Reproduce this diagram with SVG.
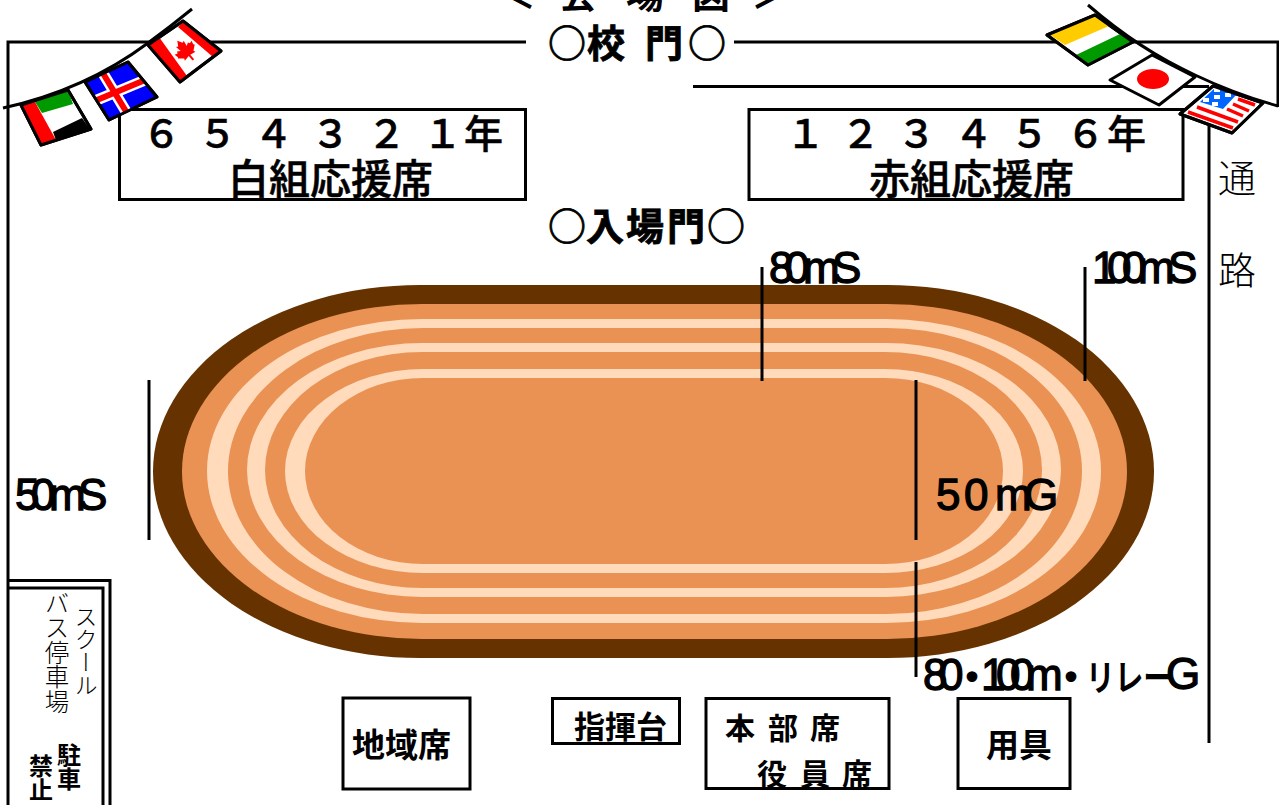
<svg xmlns="http://www.w3.org/2000/svg" width="1279" height="805" viewBox="0 0 1279 805">
<style>
text{font-family:"Noto Sans CJK JP","Noto Sans",sans-serif;fill:#000}
.b{font-weight:700}
.m{font-weight:500;stroke:#000;stroke-width:.5}
.lat{font-family:"Liberation Sans",sans-serif;font-weight:400;font-size:44px;stroke:#000;stroke-width:1.3}
.thin{font-weight:300}
.v{writing-mode:vertical-rl}
.ln{fill:none;stroke:#000;stroke-width:3}
.box{fill:#fff;stroke:#000;stroke-width:3}
.fl{stroke:#000;stroke-width:3;stroke-linejoin:round}
.nf{stroke:none}
.st{fill:none;stroke:#f00;stroke-width:3.500}
</style>
<defs>
<clipPath id="ic"><polygon points="85,82 128,62 157,97 109,120"/></clipPath>
<clipPath id="us"><polygon points="1180,114 1213,86 1263,103 1232,133"/></clipPath>
</defs>
<rect width="1279" height="805" fill="#fff"/>
<g id="title"><text class="b" font-size="38" y="8" x="498 559 626 692 751">＜会場図＞</text></g>
<g id="frame">
<path class="ln" d="M526 42H8V805M734 42H1278V107M693 86.500H1209M1209 118V743"/>
</g>
<g id="track">
<rect x="153" y="285" width="1001" height="373" rx="267" ry="186.500" fill="#663300"/>
<rect x="182" y="304" width="945" height="335" rx="240" ry="167.500" fill="#e99254"/>
<rect x="207" y="319" width="894" height="304" rx="215" ry="152" fill="#ffdabb"/>
<rect x="228" y="328" width="854" height="286" rx="195" ry="143" fill="#e99254"/>
<rect x="247" y="343" width="814" height="254" rx="175" ry="127" fill="#ffdabb"/>
<rect x="265" y="352" width="777" height="236" rx="157" ry="118" fill="#e99254"/>
<rect x="285" y="369" width="738" height="204" rx="138" ry="102" fill="#ffdabb"/>
<rect x="305" y="378" width="698" height="186" rx="118" ry="93" fill="#e99254"/>
</g>
<g id="connectors">
<path class="ln" d="M149 380V540M762 267V381M1085 267V381M916 380V540M916 562V677"/>
</g>
<g id="gate"><text class="b" font-size="38" y="57" x="548 587 645 688" stroke="#000" stroke-width=".8">○校門○</text></g>
<g id="entrance"><text class="b" font-size="38" y="240" x="548 586 626 667 707" stroke="#000" stroke-width=".8">○入場門○</text></g>
<g id="white-seats">
<rect class="box" x="119.500" y="109.500" width="406" height="90"/>
<text class="m" font-size="39" y="148" x="142 198 254 311 367 423 464">６５４３２１年</text>
<text class="m" font-size="41" y="194" x="228">白組応援席</text>
</g>
<g id="red-seats">
<rect class="box" x="749" y="109.500" width="434" height="90"/>
<text class="m" font-size="39" y="148" x="786 841 897 954 1010 1066 1107">１２３４５６年</text>
<text class="m" font-size="41" y="194" x="869">赤組応援席</text>
</g>
<g id="passage">
<text class="thin" font-size="38" x="1218" y="192">通</text>
<text class="thin" font-size="38" x="1218" y="284">路</text>
</g>
<g id="labels">
<text class="lat" y="283" x="769 785 803 832">80mS</text>
<text class="lat" y="283" x="1092 1107 1122 1138 1168">100mS</text>
<text class="lat" y="510" x="15 31 49 78">50mS</text>
<text class="lat" y="510" x="936 964 995 1024">50mG</text>
<text class="lat" y="690" x="923 939">80</text>
<text class="b" font-size="36" x="954" y="691" stroke="#000" stroke-width="1.500">・</text>
<text class="lat" y="690" x="981 996 1010 1026">100m</text>
<text class="b" font-size="36" x="1053" y="691" stroke="#000" stroke-width="1.500">・</text>
<text class="b" font-size="36" x="1086" y="691" textLength="86" lengthAdjust="spacingAndGlyphs">リレー</text>
<text class="lat" x="1166" y="689">G</text>
</g>
<g id="parking">
<path class="ln" d="M8 580.500H110V805M8 588H103V805"/>
<text class="v thin" font-size="23" x="86" y="605">スクール</text>
<text class="v thin" font-size="24.500" x="57" y="591">バス停車場</text>
<text class="v b" font-size="24" x="69" y="743">駐車</text>
<text class="v b" font-size="24" x="41" y="754">禁止</text>
</g>
<g id="local-seat">
<rect class="box" x="343" y="698" width="127" height="91"/>
<text class="b" font-size="33" x="352" y="757">地域席</text>
</g>
<g id="podium">
<rect class="box" x="552.500" y="698.500" width="127" height="45"/>
<text class="b" font-size="31" x="574" y="738">指揮台</text>
</g>
<g id="hq-seat">
<rect class="box" x="706" y="698.500" width="183" height="90"/>
<text class="b" font-size="30" y="739" x="725 768 810">本部席</text>
<text class="b" font-size="30" y="785" x="757 800 842">役員席</text>
</g>
<g id="equipment">
<rect class="box" x="958" y="698.500" width="112" height="90"/>
<text class="b" font-size="33" x="986" y="757">用具</text>
</g>
<g id="bunting-left">
<path class="ln" d="M3 108Q85 90 148 43Q170 27 192 9"/>
<polygon class="fl" points="21,105 68,90 91,129 41,145" fill="#fff"/>
<polygon class="nf" points="21,105 35,102 56,140 41,145" fill="#f00"/>
<polygon class="nf" points="35,102 68,90 73,104 42,113" fill="#090"/>
<polygon class="nf" points="53,132 82,118 90,129 56,140" fill="#000"/>
<polygon class="fl" points="21,105 68,90 91,129 41,145" fill="none"/>
<polygon class="fl" points="85,82 128,62 157,97 109,120" fill="#00f"/>
<g clip-path="url(#ic)">
<path fill="none" stroke="#fff" stroke-width="11" d="M85 105L150 78M101 70L130 118"/>
<path fill="none" stroke="#f00" stroke-width="6" d="M85 105L150 78M101 70L130 118"/>
</g>
<polygon class="fl" points="85,82 128,62 157,97 109,120" fill="none"/>
<polygon class="fl" points="148,45 183,21 221,51 180,82" fill="#fff"/>
<polygon class="nf" points="148,45 159,37 187,76 180,82" fill="#f00"/>
<polygon class="nf" points="178,27 184,21 221,51 213,57" fill="#f00"/>
<polygon class="nf" fill="#f00" transform="translate(185 50) rotate(-40)" points="0,-12 3,-7 5,-8 4,-2 7,-4 8,-2 11,-3 10,1 11,2 6,6 7,8 1,7 1,13 -1,13 -1,7 -7,8 -6,6 -11,2 -10,1 -11,-3 -8,-2 -7,-4 -4,-2 -5,-8 -3,-7"/>
<polygon class="fl" points="148,45 183,21 221,51 180,82" fill="none"/>
</g>
<g id="bunting-right">
<path class="ln" d="M1088 5Q1140 50 1195 75Q1235 94 1278 106"/>
<polygon class="fl" points="1047,35 1095,15 1133,42 1088,65" fill="#fff"/>
<polygon class="nf" points="1050,35 1095,16 1109,26 1065,45" fill="#fc0"/>
<polygon class="nf" points="1076,55 1120,34 1132,42 1088,64" fill="#090"/>
<polygon class="fl" points="1047,35 1095,15 1133,42 1088,65" fill="none"/>
<polygon class="fl" points="1110,80 1152,55 1195,77 1159,105" fill="#fff"/>
<ellipse cx="1153" cy="79" rx="16" ry="10" fill="#f00"/>
<polygon class="fl" points="1180,114 1213,86 1263,103 1232,133" fill="#fff"/>
<g clip-path="url(#us)">
<path class="st" d="M1188 112L1233 128M1197 107L1238 122M1227 109L1243 116M1233 104L1249 111M1238 99L1255 105"/>
<polygon class="nf" points="1200,102 1217,86 1238,93 1223,109" fill="#06f"/>
</g>
<path fill="#fff" d="M1214 88h6v4h-6zM1225 93h6v4h-6zM1203 98h6v4h-6zM1214 95h6v4h-6zM1212 102h6v4h-6z"/>
<polygon class="fl" points="1180,114 1213,86 1263,103 1232,133" fill="none"/>
</g>
</svg>
